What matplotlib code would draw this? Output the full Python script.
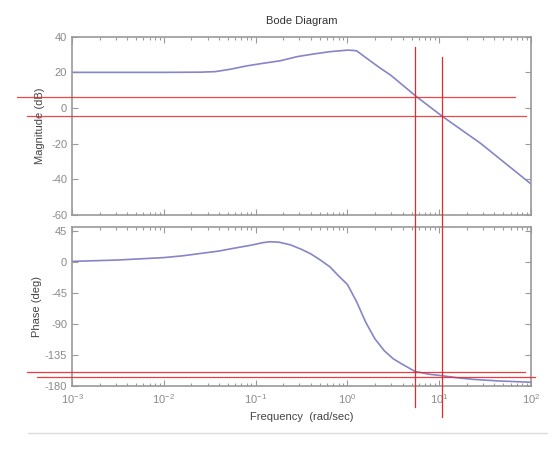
import numpy as np
import matplotlib
matplotlib.use("Agg")
import matplotlib.pyplot as plt
from matplotlib.lines import Line2D
import matplotlib.transforms as mtransforms
from matplotlib.ticker import LogLocator, FixedLocator, NullFormatter

plt.rcParams['font.family'] = ['Liberation Sans', 'DejaVu Sans']
plt.rcParams['mathtext.fontset'] = 'custom'
plt.rcParams['mathtext.rm'] = 'Liberation Sans'
plt.rcParams['mathtext.it'] = 'Liberation Sans'
plt.rcParams['axes.unicode_minus'] = False

# ---- data ----
mag_freq = [0.001, 0.01, 0.025, 0.0363, 0.0525, 0.0794, 0.1216, 0.186,
            0.282, 0.427, 0.646, 1.023, 1.259, 1.622, 2.29, 2.95, 5.62,
            10.7, 28.2, 100.0]
mag_db = [20.0, 20.0, 20.1, 20.4, 21.7, 23.6, 25.1, 26.5, 28.8, 30.3,
          31.6, 32.5, 32.1, 27.9, 22.3, 18.5, 6.5, -4.5, -19.8, -42.6]

phase_freq = [0.001, 0.00316, 0.01, 0.0158, 0.0251, 0.0398, 0.0575, 0.0891,
              0.120, 0.141, 0.178, 0.240, 0.316, 0.398, 0.501, 0.646, 0.794,
              1.0, 1.259, 1.585, 1.995, 2.512, 3.162, 3.981, 5.495, 7.943,
              10.72, 15.85, 23.44, 42.66, 100.0]
phase_deg = [0.5, 2.5, 6.0, 8.5, 12.0, 15.5, 19.5, 24.0, 27.7, 29.0, 28.5,
             24.5, 18.0, 11.5, 3.0, -7.5, -20.0, -33.0, -58.0, -88.0, -112.0,
             -129.0, -141.0, -149.0, -159.5, -163.5, -165.5, -168.5, -170.8,
             -173.0, -175.0]

mark_freq = [5.5, 10.7]          # vertical red markers (rad/sec)
mark_mag = [6.2, -4.5]           # horizontal red markers on magnitude (dB)
mark_phase = [-160.6, -166.9]    # horizontal red markers on phase (deg)

mag_ticks = [40, 20, 0, -20, -40, -60]
phase_ticks = [45, 0, -45, -90, -135, -180]

# ---- figure ----
W, H = 560, 450
fig = plt.figure(figsize=(W / 100, H / 100), dpi=100)
fig.patch.set_facecolor('white')

def fx(px):
    return px / W

def fy(py):
    return 1 - py / H

ax1 = fig.add_axes([fx(72), fy(215), fx(531) - fx(72), fy(36.7) - fy(215)])
ax2 = fig.add_axes([fx(72), fy(385.7), fx(531) - fx(72), fy(227.3) - fy(385.7)])

line_col = '#8585c8'
frame_col = '#9a9a9a'
lab_col = '#8a8a8a'

ax1.semilogx(mag_freq, mag_db, color=line_col, lw=1.2)
ax2.semilogx(phase_freq, phase_deg, color=line_col, lw=1.2)

ax1.set_ylim(-60, 40)
ax2.set_ylim(-180, 50)
ax1.yaxis.set_major_locator(FixedLocator(mag_ticks))
ax2.yaxis.set_major_locator(FixedLocator(phase_ticks))

for ax in (ax1, ax2):
    ax.set_xlim(1e-3, 1e2)
    ax.xaxis.set_major_locator(LogLocator(base=10, numticks=10))
    ax.xaxis.set_minor_locator(LogLocator(base=10, subs=np.arange(2, 10), numticks=20))
    ax.xaxis.set_minor_formatter(NullFormatter())
    for s in ax.spines.values():
        s.set_color(frame_col)
        s.set_linewidth(1.2)
    ax.tick_params(which='both', direction='in', top=True, right=True,
                   color=frame_col, labelcolor=lab_col, labelsize=8)
    ax.tick_params(which='major', length=4, width=0.8)
    ax.tick_params(which='minor', length=2.5, width=0.8)

ax1.tick_params(axis='x', labelbottom=False)
ax2.tick_params(axis='x', pad=5)

ax1.set_ylabel('Magnitude (dB)', fontsize=8, color='#444444', labelpad=4)
ax2.set_ylabel('Phase (deg)', fontsize=8, color='#444444', labelpad=2)
ax2.set_xlabel('Frequency  (rad/sec)', fontsize=8, color='#444444', labelpad=4)
ax1.set_title('Bode Diagram', fontsize=8, color='#333333', pad=9)

# light outer frame line at the bottom of the screenshot
fig.add_artist(Line2D([fx(28), fx(547)], [fy(433), fy(433)], color='#dddddd', lw=1.0))

# ---- red annotation lines ----
red = '#e52a2a'
tv = mtransforms.blended_transform_factory(ax1.transData, fig.transFigure)
v_spans = [(47, 406.7), (57, 416.7)]
for f, (y0, y1) in zip(mark_freq, v_spans):
    fig.add_artist(Line2D([f, f], [fy(y0), fy(y1)], transform=tv, color=red, lw=0.9))

th1 = mtransforms.blended_transform_factory(fig.transFigure, ax1.transData)
h1_spans = [(17, 515), (27, 526)]
for m, (x0, x1) in zip(mark_mag, h1_spans):
    fig.add_artist(Line2D([fx(x0), fx(x1)], [m, m], transform=th1, color=red, lw=0.9, alpha=0.85))

th2 = mtransforms.blended_transform_factory(fig.transFigure, ax2.transData)
h2_spans = [(27, 525), (37, 535)]
for p, (x0, x1) in zip(mark_phase, h2_spans):
    fig.add_artist(Line2D([fx(x0), fx(x1)], [p, p], transform=th2, color=red, lw=0.9, alpha=0.9))

fig.savefig('out.png', dpi=100)
